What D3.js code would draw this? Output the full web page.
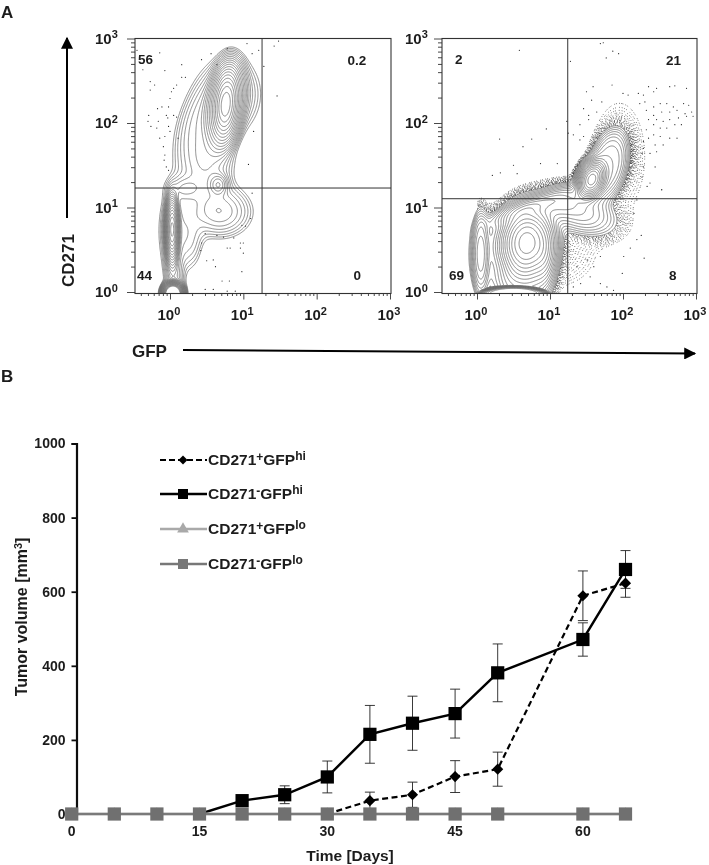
<!DOCTYPE html>
<html>
<head>
<meta charset="utf-8">
<script src="https://cdn.jsdelivr.net/npm/d3@7"></script>
<style>
  html, body { margin: 0; padding: 0; background: #fff; }
  svg { display: block; }
  text { font-family: "Liberation Sans", Arial, sans-serif; font-weight: bold; fill: #1c1c1c; }
  .contour { fill: none; stroke: #707070; stroke-width: 0.8; }
  .stipple { fill: none; stroke: #111; stroke-linecap: round; stroke-width: 0.95; }
</style>
</head>
<body>
<div id="chart"></div>
<script>
// Flow panels: density peaks, in decades (log10 GFP, log10 CD271)
// x, y, spread x, spread y, tilt (deg), height, edge sharpness
const leftPeaks = [
  [0.76, 2.22, 0.085, 0.20, 6, 120, 2],
  [0.75, 2.20, 0.20, 0.42, 12, 14, 4],
  [0.82, 2.32, 0.23, 0.26, 12, 5, 2],
  [0.42, 2.10, 0.16, 0.30, 25, 3.5, 2],
  [0.48, 1.55, 0.22, 0.28, 5, 5, 2],
  [0.66, 1.27, 0.07, 0.07, 0, 8, 2],
  [0.68, 0.95, 0.24, 0.17, 0, 6, 2],
  [0.20, 1.22, 0.14, 0.09, 0, 3.5, 2],
  [0.03, 0.74, 0.04, 0.16, 0, 150, 2],
  [0.03, 0.72, 0.07, 0.34, 0, 10, 4],
  [0.05, 0.72, 0.12, 0.30, 0, 4, 2],
  [0.28, 0.62, 0.11, 0.22, 0, 2.5, 2],
  [0.05, 0.28, 0.07, 0.16, 0, 4, 2],
  [0.08, 0.02, 0.08, 0.12, 0, 3, 2],
  [0.04, -0.03, 0.05, 0.05, 0, 3000, 2]
];
const rightPeaks = [
  [0.68, 0.58, 0.17, 0.20, 10, 80, 2],
  [0.60, 0.10, 0.25, 0.20, 0, 6, 3],
  [0.72, 1.00, 0.30, 0.06, -18, 8, 2],
  [1.15, 1.05, 0.22, 0.10, -15, 5, 2],
  [0.92, 0.42, 0.09, 0.20, 0, 10, 2],
  [1.40, 0.95, 0.28, 0.14, 15, 6, 2],
  [1.57, 1.33, 0.08, 0.11, 30, 100, 2],
  [1.80, 1.50, 0.17, 0.30, 18, 8, 3],
  [0.05, 0.45, 0.07, 0.30, 0, 8, 2.5],
  [0.10, 0.45, 0.20, 0.40, 0, 1.6, 4],
  [0.50, -0.02, 0.36, 0.07, 0, 300, 8]
];
// thin tails of each population, only reached by the stippled outliers
const leftOutlierPeaks = [];
const rightOutlierPeaks = [
  [1.95, 1.60, 0.22, 0.40, 0, 0.9, 2],
  [1.15, 0.50, 0.30, 0.26, 0, 0.9, 2],
  [0.70, 1.02, 0.45, 0.10, -16, 0.8, 2]
];

// Sparse single events
const leftEvents = [
  [-0.45,2.86],[-0.37,2.63],[-0.14,2.83],[-0.07,2.62],[-0.27,2.49],[-0.21,2.45],[-0.27,2.39],[0.16,2.69],
  [0.21,2.54],[0.16,2.54],[0.09,2.45],[0.05,2.41],[0.02,2.37],[0,2.29],[0.43,2.75],[0.56,2.82],[0.64,2.69],
  [0.78,2.88],[1.05,2.94],[1.21,2.86],[1.12,2.82],[1.28,2.67],[1.42,2.91],[1.48,2.97],[1.46,2.32],[-0.17,2.17],
  [-0.11,2.19],[-0.29,2.09],[-0.02,2.19],[-0.05,2.09],[-0.30,2.02],[-0.16,2.02],[-0.26,1.96],[-0.18,1.94],
  [-0.03,2.06],[0.05,2.09],[0.09,2.07],[-0.02,1.96],[-0.14,1.82],[-0.07,1.84],[0.11,1.82],[0,1.90],[-0.09,1.72],
  [-0.07,1.62],[-0.08,1.56],[-0.05,1.48],[-0.02,1.44],[0.43,0.58],[0.42,0.49],[0.50,0.37],[0.59,0.38],[0.62,0.30],
  [0.48,0.69],[0.64,0.67],[0.73,0.65],[0.78,0.52],[0.82,0.52],[0.87,0.64],[0.96,0.58],[1.0,0.58],[0.96,0.52],
  [1.0,0.46],[0.98,0.24],[0.71,0.13],[0.81,0.13],[0.59,0.03],[0.48,0.03],[0.78,0.01],[0.89,0.01],[1.10,0.87],
  [1.03,0.78],[0.98,0.79],[1.14,1.90],[1.07,1.51],[1.12,1.17]
];
const rightEvents = [
  [0.58,2.86],[1.69,2.94],[1.73,2.95],[1.86,2.85],[1.94,2.82],[1.77,2.77],[1.28,2.73],[0.31,1.81],[0.75,1.81],
  [0.95,1.93],[0.63,1.72],[1.23,2.02],[2.53,1.21],[2.29,0.40],[2.25,0.67],[1.99,0.22],[0.21,1.38],[0.32,1.41],
  [0.50,1.50],[0.55,1.40],[0.87,1.52],[1.10,1.52],
  [1.59,2.43],[1.85,2.45],[1.50,2.37],[2.00,2.35],[2.07,2.33],[2.21,2.35],[2.35,2.43],[2.46,2.41],[2.64,2.43],
  [2.71,2.44],[2.87,2.41],[2.28,2.33],[2.42,2.37],[2.30,2.25],[2.23,2.23],[2.42,2.19],[2.51,2.23],[2.60,2.23],
  [2.69,2.19],[2.83,2.23],[2.90,2.21],[2.94,2.13],[2.85,2.11],[2.74,2.15],[2.64,2.13],[2.53,2.13],[2.42,2.09],
  [2.32,2.15],[2.46,2.04],[2.55,2.02],[2.64,2.04],[2.76,2.06],[2.87,2.08],[2.96,2.08],[2.71,1.98],[2.80,1.98],
  [2.60,1.94],[2.51,1.94],[2.42,1.98],[2.35,2.04],[2.74,1.82],[2.64,1.82],[2.51,1.84],[2.42,1.86],[2.32,1.92],
  [2.55,1.74],[2.44,1.74],[2.35,1.82],[2.28,1.78],[2.46,1.66],[2.37,1.64],[2.26,1.64],[2.28,1.70],[2.44,1.48],
  [2.37,1.29],[2.53,1.21],[2.26,1.36],[1.57,2.27],[1.46,2.17],[1.64,2.13],[1.53,2.09],[1.53,2.04],[1.41,1.98],
  [1.71,2.25],[1.32,1.86],[1.25,1.88],[1.46,1.84],[1.41,1.80],
  [1.37,0.30],[1.51,0.38],[1.60,0.30],[1.69,0.42],[1.55,0.18],[1.69,0.10],[1.78,0.06],[1.87,0.02],[2.01,0.42],
  [2.10,0.52],[2.19,0.62],[1.42,0.10],[1.32,0.06],[2.15,0.93],[2.19,1.09],[2.33,1.25],[2.28,1.48]
];

// Quadrant gates and percentages
const leftGate = { x: 18.0, y: 17.0 };
const rightGate = { x: 17.5, y: 12.7 };
const leftPercents = ["56", "0.2", "44", "0"];
const rightPercents = ["2", "21", "69", "8"];
const decades = [1, 10, 100, 1000];

// Tumor growth
const days = [0, 5, 10, 15, 20, 25, 30, 35, 40, 45, 50, 60, 65];
const cd271PosHi = [0, 0, 0, 0, 0, 0, 0, 36, 52, 101, 121, 589, 623];
const cd271PosHiErr = [0, 0, 0, 0, 0, 0, 0, 23, 34, 43, 46, 67, 38];
const cd271NegHi = [0, 0, 0, 0, 36, 52, 100, 215, 245, 271, 381, 471, 660];
const cd271NegHiErr = [0, 0, 0, 0, 13, 24, 43, 78, 73, 66, 78, 45, 51];
const cd271PosLo = [0, 0, 0, 0, 0, 0, 0, 0, 0, 0, 0, 0, 0];
const cd271NegLo = [0, 0, 0, 0, 0, 0, 0, 0, 0, 0, 0, 0, 0];
const volumeTicks = [0, 200, 400, 600, 800, 1000];
const dayTicks = [0, 15, 30, 45, 60];

const svg = d3.select("#chart").append("svg")
    .attr("width", 709)
    .attr("height", 865);

const defs = svg.append("defs");
defs.append("filter").attr("id", "soft")
    .attr("x", "-5%").attr("y", "-5%").attr("width", "110%").attr("height", "110%")
  .append("feGaussianBlur").attr("stdDeviation", 0.35);
defs.append("marker").attr("id", "head")
    .attr("viewBox", "0 0 10 10").attr("refX", 9).attr("refY", 5)
    .attr("markerUnits", "userSpaceOnUse")
    .attr("markerWidth", 17).attr("markerHeight", 12)
    .attr("orient", "auto")
  .append("path").attr("d", "M0,0L10,5L0,10Z").attr("fill", "#000");

const page = svg.append("g").attr("filter", "url(#soft)");

// Flow panels
// ----------------------------------------
const gridX0 = -0.6, gridY0 = -0.2, gridStep = 0.01, gridW = 370, gridH = 325;

function densityField(peaks) {
  const field = new Float64Array(gridW * gridH);
  peaks.forEach(([px, py, sx, sy, tilt, h, sharp]) => {
    const a = tilt * Math.PI / 180, c = Math.cos(a), s = Math.sin(a);
    for (let j = 0; j < gridH; j++) {
      const dy = gridY0 + j * gridStep - py;
      for (let i = 0; i < gridW; i++) {
        const dx = gridX0 + i * gridStep - px;
        const u = (dx * c - dy * s) / sx, v = (dx * s + dy * c) / sy;
        field[j * gridW + i] += h * Math.exp(-0.5 * Math.pow(u * u + v * v, sharp / 2));
      }
    }
  });
  return field;
}

function flowPanel(name, box, peaks, outlierPeaks, events, gate, percents, withStipple) {
  const x = d3.scaleLog().domain([1, 1000]).range([box.x1, box.x3]);
  const y = d3.scaleLog().domain([1, 1000]).range([292, 38.5]);

  const panel = page.append("g");
  defs.append("clipPath").attr("id", "clip-" + name)
    .append("rect")
      .attr("x", box.left).attr("y", 38.5)
      .attr("width", box.right - box.left).attr("height", 293.5 - 38.5);
  defs.append("clipPath").attr("id", "clip-stipple-" + name)
    .append("rect")
      .attr("x", x(1)).attr("y", 38.5)
      .attr("width", box.right - x(1)).attr("height", 293.5 - 38.5);

  const toPage = d3.geoTransform({
    point(i, j) {
      this.stream.point(
        x(Math.pow(10, gridX0 + (i - 0.5) * gridStep)),
        y(Math.pow(10, gridY0 + (j - 0.5) * gridStep)));
    }
  });
  const path = d3.geoPath(toPage);

  const field = densityField(peaks);
  const levels = d3.range(0, 24).map(k => 1.0 * Math.pow(1.3, k));
  const shapes = d3.contours().size([gridW, gridH]).thresholds(levels)(field);

  // outliers as stipple around the outermost contour
  if (withStipple) {
    const tailField = densityField(peaks.concat(outlierPeaks));
    const tailLevels = [2.2, 2, 1.8, 1.65, 1.5, 1.38, 1.26, 1.15, 1.05, 0.95, 0.85, 0.76, 0.68, 0.6,
      0.52, 0.45, 0.38, 0.32, 0.26];
    const gaps = ["1.7 0.01 3.1 0.01 2.3 0.01 4.3", "2.9 0.01 1.9 0.01 3.7", "2.1 0.01 4.1 0.01 2.7 0.01 3.3"];
    const stipple = panel.append("g").attr("clip-path", `url(#clip-stipple-${name})`);
    tailLevels.forEach((lv, k) => {
      const shape = d3.contours().size([gridW, gridH]).thresholds([lv])(tailField)[0];
      stipple.append("path")
          .attr("class", "stipple")
          .attr("stroke-dasharray", `0.01 ${gaps[k % 3]}`)
          .attr("stroke-dashoffset", k * 1.3)
          .attr("opacity", Math.max(0.65, 1 - k * 0.02))
          .attr("d", path(shape));
    });
    // the dots never run inside the outer contour
    panel.append("path")
        .attr("clip-path", `url(#clip-${name})`)
        .attr("fill", "#fff")
        .attr("d", path(shapes[0]));
  }

  panel.append("g").attr("clip-path", `url(#clip-${name})`)
    .selectAll("path")
    .data(shapes)
    .join("path")
      .attr("class", "contour")
      .attr("d", path);

  panel.append("g").selectAll("circle")
    .data(events)
    .join("circle")
      .attr("cx", d => x(Math.pow(10, d[0])))
      .attr("cy", d => y(Math.pow(10, d[1])))
      .attr("r", 0.6)
      .attr("fill", "#222");

  // frame + gates
  panel.append("rect")
      .attr("x", box.left).attr("y", 38.5)
      .attr("width", box.right - box.left).attr("height", 293.5 - 38.5)
      .attr("fill", "none").attr("stroke", "#333").attr("stroke-width", 1.1);
  panel.append("line")
      .attr("x1", x(gate.x)).attr("x2", x(gate.x))
      .attr("y1", 38.5).attr("y2", 293.5)
      .attr("stroke", "#333").attr("stroke-width", 1);
  panel.append("line")
      .attr("x1", box.left).attr("x2", box.right)
      .attr("y1", y(gate.y)).attr("y2", y(gate.y))
      .attr("stroke", "#333").attr("stroke-width", 1);

  // log axes, long tick on decades
  const minors = decades.slice(0, 3).flatMap(d => d3.range(2, 10).map(m => m * d));
  const xMinors = [0.4, 0.5, 0.6, 0.7, 0.8, 0.9].concat(minors);
  const xAxis = g => g.attr("transform", "translate(0,293.5)");
  panel.append("g").call(xAxis)
      .call(d3.axisBottom(x).tickValues(xMinors).tickSize(2.5).tickFormat(""))
      .call(g => g.select(".domain").remove());
  panel.append("g").call(xAxis)
      .call(d3.axisBottom(x).tickValues(decades).tickSize(6).tickFormat(""))
      .call(g => g.select(".domain").remove());
  panel.append("g").attr("transform", `translate(${box.left},0)`)
      .call(d3.axisLeft(y).tickValues(minors).tickSize(4).tickFormat(""))
      .call(g => g.select(".domain").remove());
  panel.append("g").attr("transform", `translate(${box.left},0)`)
      .call(d3.axisLeft(y).tickValues(decades).tickSize(8).tickFormat(""))
      .call(g => g.select(".domain").remove());
  panel.selectAll(".tick line").attr("stroke", "#333").attr("stroke-width", 0.9);

  const power = (sel, d) => {
    sel.append("tspan").text("10");
    sel.append("tspan").attr("dy", -5.5).attr("font-size", 11).text(Math.round(Math.log10(d)));
  };
  decades.forEach(d => {
    panel.append("text")
        .attr("x", x(d) - 12.5).attr("y", 320).attr("font-size", 15)
        .call(power, d);
    panel.append("text")
        .attr("x", box.labelX).attr("y", y(d) + 5).attr("font-size", 15)
        .call(power, d);
  });

  // quadrant percentages
  const spots = [[box.tlx, 63.5], [box.trx, 65], [box.blx, 279.5], [box.brx, 279.5]];
  percents.forEach((p, k) => {
    panel.append("text")
        .attr("x", spots[k][0]).attr("y", spots[k][1]).attr("font-size", 13.5)
        .text(p);
  });
}

flowPanel("left", { left: 135, right: 391, x1: 170, x3: 390, labelX: 95, tlx: 138, trx: 347.5, blx: 137, brx: 353.5 },
  leftPeaks, leftOutlierPeaks, leftEvents, leftGate, leftPercents, false);
flowPanel("right", { left: 442, right: 697, x1: 477, x3: 696, labelX: 405, tlx: 455, trx: 666, blx: 449, brx: 669 },
  rightPeaks, rightOutlierPeaks, rightEvents, rightGate, rightPercents, true);

// panel letters and axis arrows
page.append("text").attr("x", 1).attr("y", 17.5).attr("font-size", 17).text("A");
page.append("text").attr("x", 1).attr("y", 382).attr("font-size", 17).text("B");
page.append("text")
    .attr("transform", "translate(74,287) rotate(-90)")
    .attr("font-size", 17).text("CD271");
page.append("text").attr("x", 132).attr("y", 357).attr("font-size", 17).text("GFP");
page.append("line")
    .attr("x1", 67).attr("y1", 218).attr("x2", 67).attr("y2", 38)
    .attr("stroke", "#000").attr("stroke-width", 2).attr("marker-end", "url(#head)");
page.append("line")
    .attr("x1", 183).attr("y1", 350).attr("x2", 695).attr("y2", 353.5)
    .attr("stroke", "#000").attr("stroke-width", 2).attr("marker-end", "url(#head)");

// Tumor growth chart
// ----------------------------------------
const xDay = d3.scaleLinear().domain([0, 65]).range([71.7, 625.5]);
const yVol = d3.scaleLinear().domain([0, 1000]).range([814, 443.5]);
const growth = page.append("g");

const yAxis = growth.append("g").attr("transform", "translate(76.5,0)")
    .call(d3.axisLeft(yVol).tickValues(volumeTicks).tickFormat(d3.format("d")).tickSize(5).tickPadding(6));
yAxis.select(".domain").attr("stroke", "#111").attr("stroke-width", 2.2);
yAxis.selectAll(".tick line").attr("stroke", "#111").attr("stroke-width", 1.8);
yAxis.selectAll("text").attr("font-size", 14).attr("font-family", '"Liberation Sans"');

dayTicks.forEach(d => {
  growth.append("text")
      .attr("x", xDay(d)).attr("y", 836).attr("text-anchor", "middle").attr("font-size", 14)
      .text(d);
});

growth.append("text")
    .attr("x", 350).attr("y", 861).attr("text-anchor", "middle").attr("font-size", 15.5)
    .text("Time [Days]");
growth.append("text")
    .attr("transform", "translate(27,617) rotate(-90)")
    .attr("text-anchor", "middle").attr("font-size", 16)
    .call(t => {
      t.append("tspan").text("Tumor volume [mm");
      t.append("tspan").attr("dy", -5).attr("font-size", 11).text("3");
      t.append("tspan").attr("dy", 5).text("]");
    });

const line = values => d3.line()
    .x((d, i) => xDay(days[i]))
    .y(d => yVol(d))(values);

function errorBars(values, errs) {
  const rows = days.map((d, i) => ({ d, v: values[i], e: errs[i] })).filter(r => r.e > 0);
  const g = growth.append("g").attr("stroke", "#222").attr("stroke-width", 0.9);
  g.selectAll(".stem").data(rows).join("line")
      .attr("x1", r => xDay(r.d)).attr("x2", r => xDay(r.d))
      .attr("y1", r => yVol(r.v - r.e)).attr("y2", r => yVol(r.v + r.e));
  [-1, 1].forEach(side => {
    g.selectAll(".cap" + side).data(rows).enter().append("line")
        .attr("x1", r => xDay(r.d) - 5).attr("x2", r => xDay(r.d) + 5)
        .attr("y1", r => yVol(r.v + side * r.e)).attr("y2", r => yVol(r.v + side * r.e));
  });
}

errorBars(cd271NegHi, cd271NegHiErr);
errorBars(cd271PosHi, cd271PosHiErr);

// only draw a series from the point where it leaves zero
const risen = values => {
  const first = Math.max(0, values.findIndex(v => v > 0) - 1);
  const idx = days.map((d, i) => i).filter(i => i >= first);
  return d3.line().x(i => xDay(days[i])).y(i => yVol(values[i]))(idx);
};

growth.append("path")
    .attr("d", risen(cd271PosHi))
    .attr("fill", "none").attr("stroke", "#000").attr("stroke-width", 2.2)
    .attr("stroke-dasharray", "6 3.5");
growth.append("path")
    .attr("d", risen(cd271NegHi))
    .attr("fill", "none").attr("stroke", "#000").attr("stroke-width", 2.4);

growth.selectAll(".diamond")
  .data(days.filter((d, i) => cd271PosHi[i] > 0))
  .join("path")
    .attr("d", d3.symbol(d3.symbolSquare, 62))
    .attr("transform", d => `translate(${xDay(d)},${yVol(cd271PosHi[days.indexOf(d)])}) rotate(45)`)
    .attr("fill", "#000");
growth.selectAll(".black-square")
  .data(days.filter((d, i) => cd271NegHi[i] > 0))
  .join("path")
    .attr("d", d3.symbol(d3.symbolSquare, 175))
    .attr("transform", d => `translate(${xDay(d)},${yVol(cd271NegHi[days.indexOf(d)])})`)
    .attr("fill", "#000");

growth.append("path")
    .attr("d", line(cd271PosLo))
    .attr("fill", "none").attr("stroke", "#a9a9a9").attr("stroke-width", 3.2);
growth.selectAll(".triangle")
  .data(days)
  .join("path")
    .attr("d", d3.symbol(d3.symbolTriangle, 60))
    .attr("transform", (d, i) => `translate(${xDay(d)},${yVol(cd271PosLo[i])})`)
    .attr("fill", "#a9a9a9");
growth.append("path")
    .attr("d", line(cd271NegLo))
    .attr("fill", "none").attr("stroke", "#7a7a7a").attr("stroke-width", 2);
growth.selectAll(".gray-square")
  .data(days)
  .join("path")
    .attr("d", d3.symbol(d3.symbolSquare, 175))
    .attr("transform", (d, i) => `translate(${xDay(d)},${yVol(cd271NegLo[i])})`)
    .attr("fill", "#6f6f6f");

// legend
const legendRows = [
  { y: 460, color: "#000", dash: "6 3", sym: d3.symbolSquare, size: 40, rot: 45, w: 2.2, sign: "+", sup: "hi" },
  { y: 494, color: "#000", dash: null, sym: d3.symbolSquare, size: 100, rot: 0, w: 2.4, sign: "-", sup: "hi" },
  { y: 529, color: "#a9a9a9", dash: null, sym: d3.symbolTriangle, size: 60, rot: 0, w: 2.4, sign: "+", sup: "lo" },
  { y: 564, color: "#777", dash: null, sym: d3.symbolSquare, size: 100, rot: 0, w: 2.4, sign: "-", sup: "lo" }
];
legendRows.forEach(r => {
  growth.append("line")
      .attr("x1", 160).attr("x2", 207).attr("y1", r.y).attr("y2", r.y)
      .attr("stroke", r.color).attr("stroke-width", r.w).attr("stroke-dasharray", r.dash);
  growth.append("path")
      .attr("d", d3.symbol(r.sym, r.size))
      .attr("transform", `translate(183,${r.y}) rotate(${r.rot})`)
      .attr("fill", r.color);
  growth.append("text")
      .attr("x", 208).attr("y", r.y + 5).attr("font-size", 15.5)
      .call(t => {
        t.append("tspan").text("CD271");
        t.append("tspan").attr("dy", -4).attr("font-size", 12).text(r.sign);
        t.append("tspan").attr("dy", 4).text("GFP");
        t.append("tspan").attr("dy", -5).attr("font-size", 12).text(r.sup);
      });
});
</script>
</body>
</html>
